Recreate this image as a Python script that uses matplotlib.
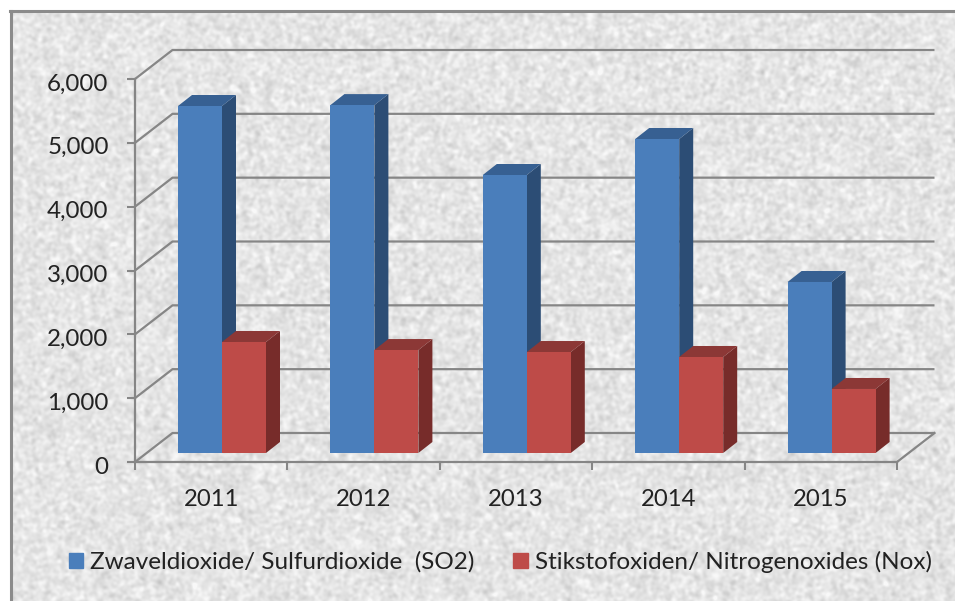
import numpy as np
import matplotlib
matplotlib.use("Agg")
import matplotlib.pyplot as plt
from matplotlib.lines import Line2D
from matplotlib.patches import Patch
from matplotlib.ticker import StrMethodFormatter
from matplotlib.transforms import ScaledTranslation

years = ["2011", "2012", "2013", "2014", "2015"]
so2 = [5436, 5450, 4355, 4919, 2679]
nox = [1739, 1613, 1582, 1504, 1003]
so2_label = "Zwaveldioxide/ Sulfurdioxide  (SO2)"
nox_label = "Stikstofoxiden/ Nitrogenoxides (Nox)"
y_ticks = [0, 1000, 2000, 3000, 4000, 5000, 6000]

W, H = 955, 601
plt.rcParams["font.family"] = ["Lato", "DejaVu Sans"]
fig = plt.figure(figsize=(W / 100, H / 100), dpi=100, facecolor="white")

# paper-like backdrop (deterministic texture, decoration only)
yy, xx = np.mgrid[0:H, 0:W]
tex = np.sin(xx * 12.9898 + yy * 78.233) * 43758.5453
tex = tex - np.floor(tex)
kx = np.fft.fftfreq(W)[None, :]
ky = np.fft.fftfreq(H)[:, None]
fine = np.fft.ifft2(np.fft.fft2(tex) * np.exp(-2 * (np.pi ** 2) * (kx ** 2 + ky ** 2) * 1.6 ** 2)).real
fine = (fine - fine.mean()) / fine.std()
shade = np.clip(229 + 7 * fine, 195, 248) / 255
rgb = np.dstack([shade, shade, shade])
rgb[:11, :, :] = 1.0
rgb[:, :10, :] = 1.0
fig.figimage(rgb, 0, 0, origin="upper", zorder=-5)

fig.add_artist(Line2D([11 / W, 11 / W], [0, 1 - 11 / H], color="#8b8b8b", lw=2.2))
fig.add_artist(Line2D([10 / W, 1], [1 - 11 / H, 1 - 11 / H], color="#8b8b8b", lw=2.2))

# axes frame equals the front plane of the 3D box
L, R, T, B = 135, 897, 79, 462
ax = fig.add_axes([L / W, (H - B) / H, (R - L) / W, (B - T) / H])
ax.patch.set_visible(False)
ax.set_xlim(0, len(years))
ax.set_ylim(0, y_ticks[-1])
px_x = len(years) / (R - L)
px_y = y_ticks[-1] / (B - T)

wall_dx, wall_dy = 37.5 * px_x, 29 * px_y
GRID = "#868686"
for v in y_ticks:
    ax.plot([0, wall_dx, len(years) + wall_dx], [v, v + wall_dy, v + wall_dy],
            color=GRID, lw=1.6, clip_on=False, zorder=1, solid_capstyle="butt")
ax.plot([len(years), len(years) + wall_dx], [0, wall_dy], color=GRID, lw=1.6, clip_on=False, zorder=1)

for s in ("top", "right"):
    ax.spines[s].set_visible(False)
for s in ("left", "bottom"):
    ax.spines[s].set_color(GRID)
    ax.spines[s].set_linewidth(1.6)

ax.set_yticks(y_ticks)
ax.yaxis.set_major_formatter(StrMethodFormatter("{x:,.0f}"))
ax.tick_params(axis="y", length=6, width=1.5, color=GRID, pad=13, labelsize=17.4, labelcolor="#222222")
ax.set_xticks(np.arange(len(years) + 1))
ax.set_xticklabels([])
ax.set_xticks(np.arange(len(years)) + 0.5, years, minor=True)
ax.tick_params(axis="x", which="major", length=6, width=1.5, color=GRID)
ax.tick_params(axis="x", which="minor", length=0, pad=19.5, labelsize=17.2, labelcolor="#222222")

# nudge the value labels down a little, as in the reference
nudge = ScaledTranslation(0, -3 / 100, fig.dpi_scale_trans)
for tick in ax.yaxis.get_major_ticks():
    tick.label1.set_transform(tick.label1.get_transform() + nudge)

# bars
bar_w = 44 * px_x
x0 = (178 - L) * px_x
floor = 9 * px_y
dx, dy = 14 * px_x, 11 * px_y
centers = np.arange(len(years))


def bars3d(values, offset, front, side, top, z):
    xs = centers + x0 + offset
    ax.bar(xs, values, width=bar_w, bottom=floor, align="edge", color=front, clip_on=False, zorder=z + 1)
    for x, v in zip(xs, values):
        h = floor + v
        ax.fill([x + bar_w, x + bar_w + dx, x + bar_w + dx, x + bar_w],
                [floor, floor + dy, h + dy, h], color=side, lw=0, clip_on=False, zorder=z)
        ax.fill([x, x + dx, x + bar_w + dx, x + bar_w],
                [h, h + dy, h + dy, h], color=top, lw=0, clip_on=False, zorder=z)


bars3d(so2, 0, "#4a7ebb", "#2c4d75", "#376092", 3)
bars3d(nox, bar_w, "#be4b48", "#772c2a", "#8c3836", 5)

leg = fig.legend(
    handles=[Patch(color="#4a7ebb", label=so2_label), Patch(color="#be4b48", label=nox_label)],
    loc="center left", bbox_to_anchor=(69 / W, (H - 562) / H), ncol=2, frameon=False,
    fontsize=17.5, labelcolor="#222222", handlelength=0.58, handleheight=0.58,
    handletextpad=0.29, columnspacing=1.6, borderpad=0, borderaxespad=0)

fig.savefig("out.png", dpi=100)
